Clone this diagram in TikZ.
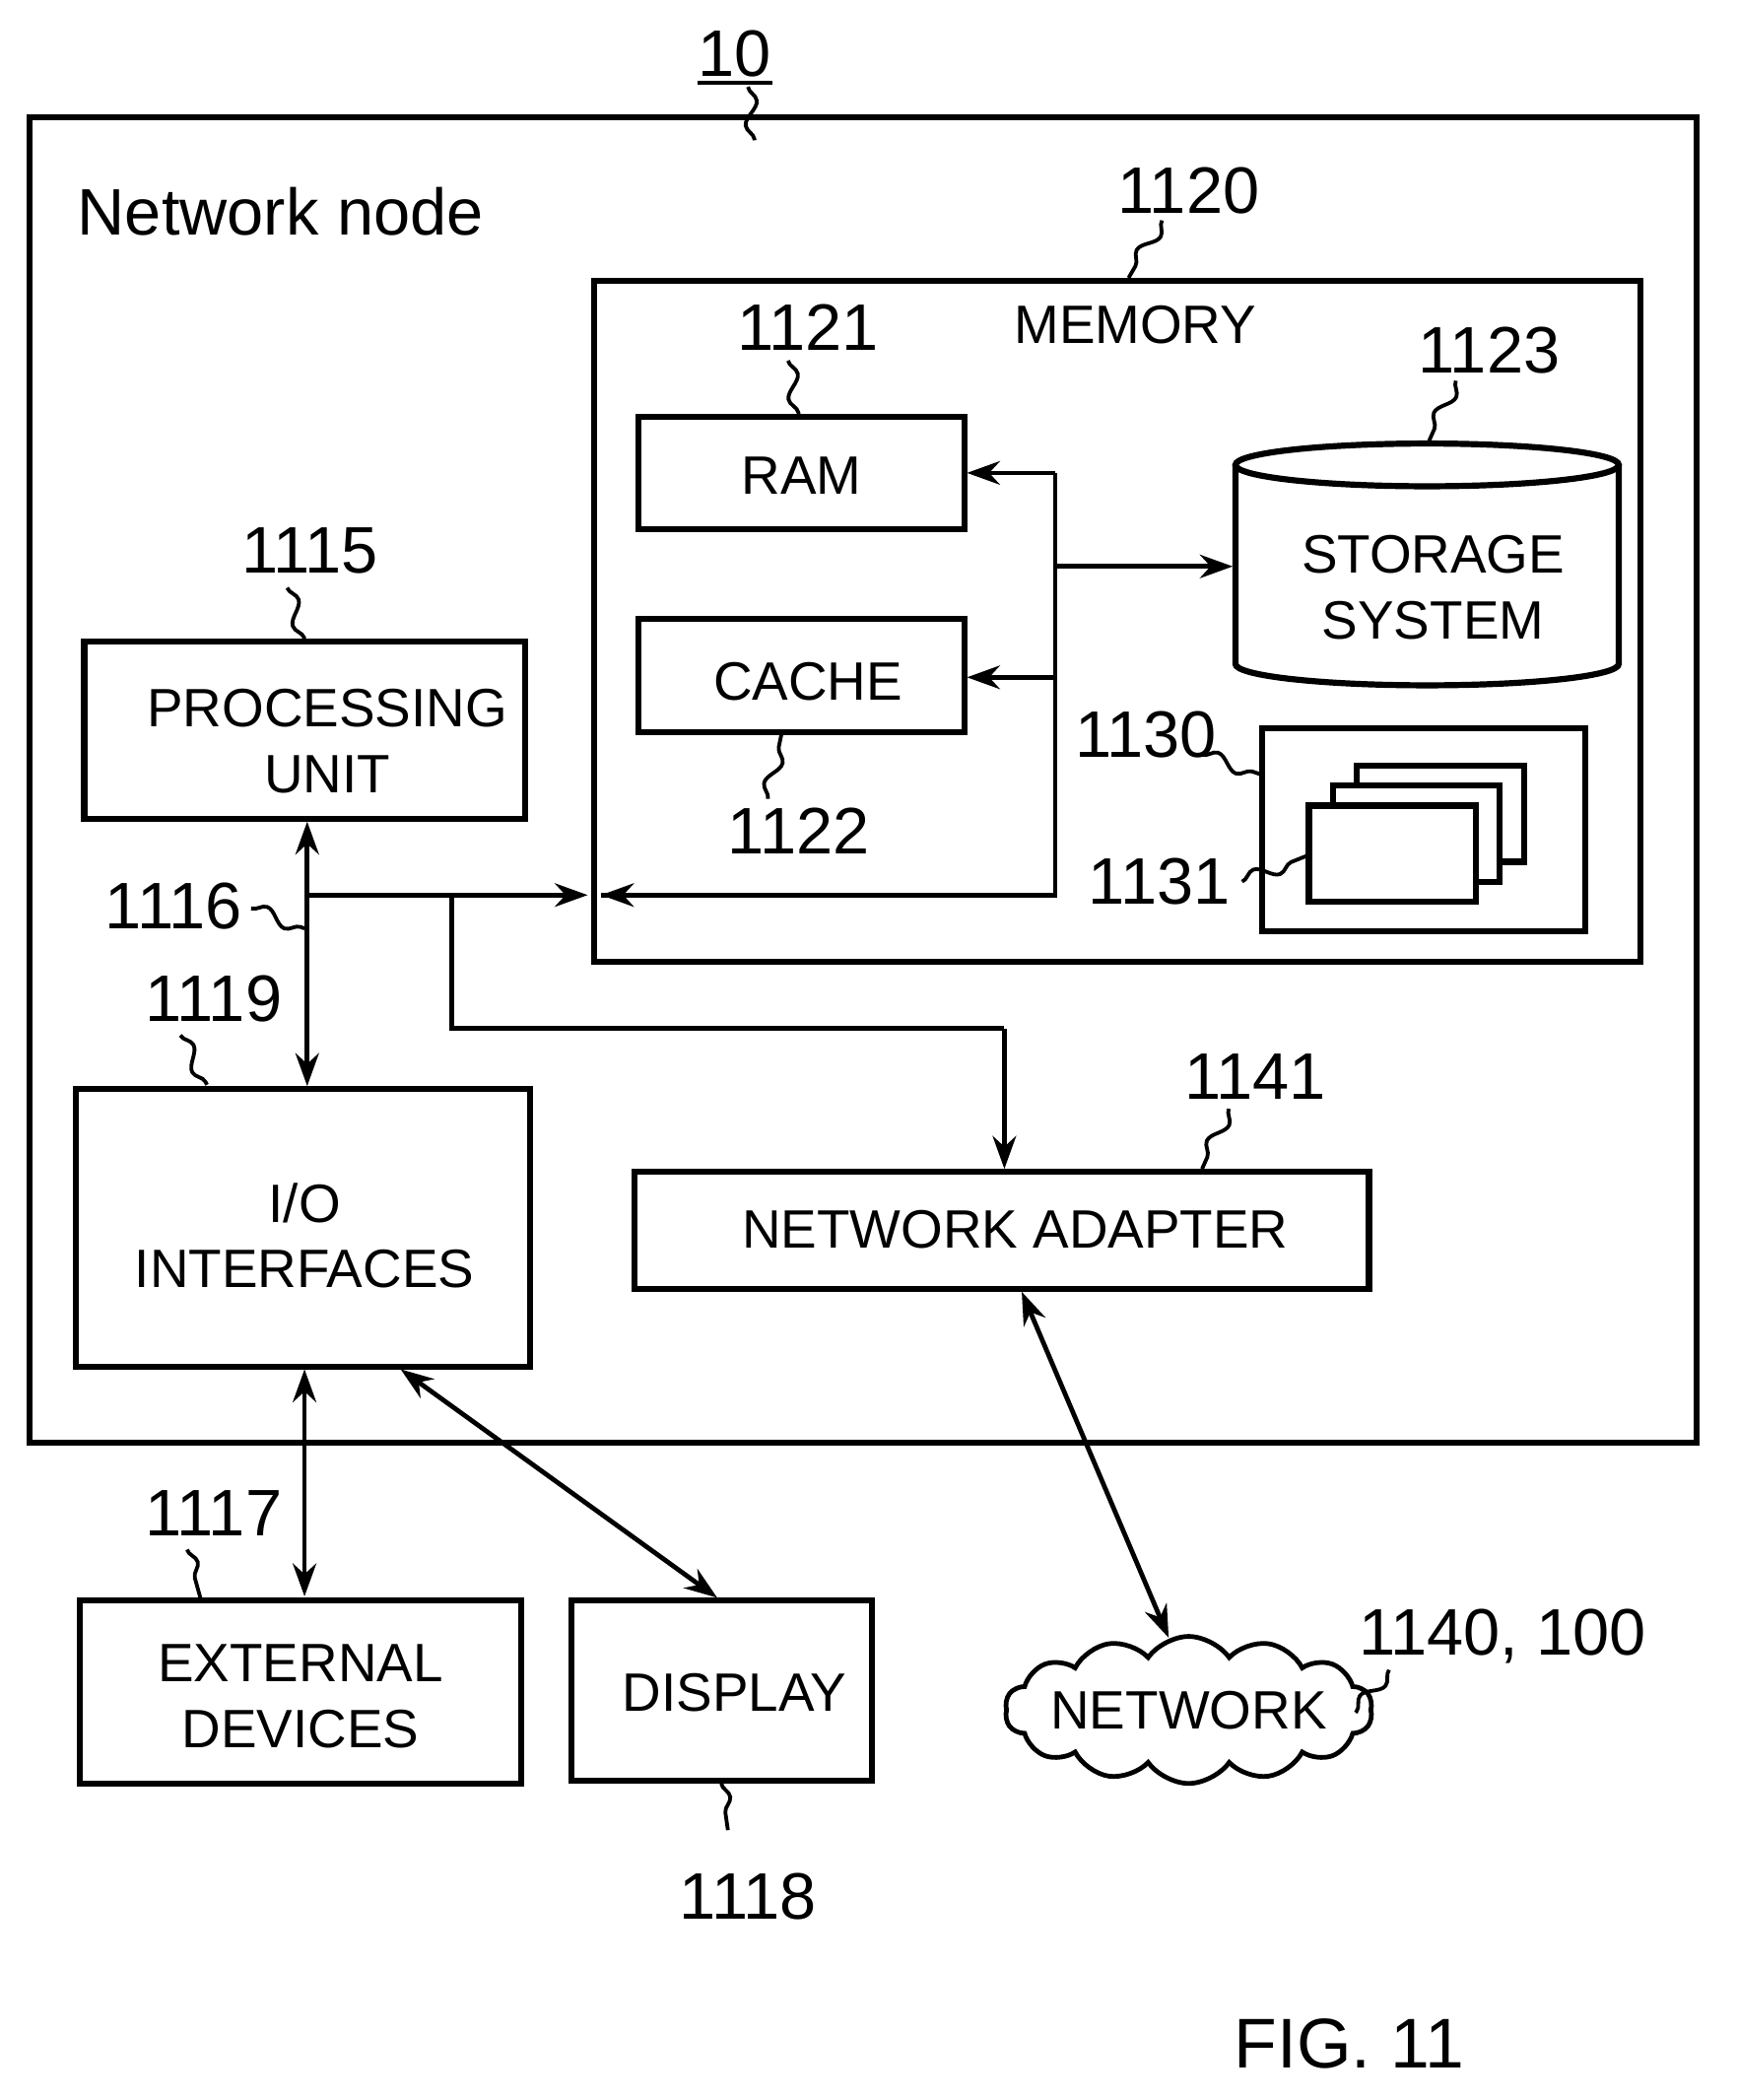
\documentclass[tikz,border=0pt]{standalone}
\usepackage{fontspec}
\setmainfont{Liberation Sans}
\usetikzlibrary{shapes.symbols,arrows.meta,decorations.pathmorphing}
\begin{document}
\begin{tikzpicture}[x=0.01cm,y=-0.01cm,
  bx/.style={draw,line width=1.3pt},
  lbl/.style={font=\fontsize{11.5}{14}\selectfont,align=center},
  num/.style={font=\fontsize{14}{16}\selectfont},
  ar/.style={line width=1pt,-{Stealth[length=7pt,width=5pt]}},
  dar/.style={line width=1pt,{Stealth[length=7pt,width=5pt]}-{Stealth[length=7pt,width=5pt]}},
  ln/.style={line width=1pt},
  lead/.style={line width=0.8pt,decorate,decoration={snake,amplitude=1.5pt,segment length=10pt}}]
\useasboundingbox (0,0) rectangle (1300,1572);
\draw[bx] (22,88) rectangle (1270,1080);
\node[num] (n10) at (550,40) {10};
\draw[line width=1pt] (522,62) -- (578,62);
\draw[lead] (560,65) -- (565,105);
\node[font=\fontsize{14}{16}\selectfont] (nn) at (210,158) {Network node};
% memory
\draw[bx] (445,210) rectangle (1228,720);
\node[lbl] (mem) at (850,243) {MEMORY};
\node[num] (n1120) at (890,143) {1120};
\draw[lead] (870,165) -- (845,208);
\draw[bx] (478,312) rectangle (722,396);
\node[lbl] (ram) at (600,356) {RAM};
\node[num] (n1121) at (605,245) {1121};
\draw[lead] (590,270) -- (598,310);
\draw[bx] (478,463) rectangle (722,548);
\node[lbl] (cache) at (605,510) {CACHE};
\node[num] (n1122) at (598,622) {1122};
\draw[lead] (575,598) -- (585,550);
% storage cylinder
\draw[bx] (925,348) -- (925,497) arc[start angle=180,end angle=0,x radius=143.5,y radius=16] -- (1212,348);
\draw[bx] (1068.5,348) ellipse[x radius=143.5,y radius=16];
\node[lbl] (stor) at (1073,440) {STORAGE\\SYSTEM};
\node[num] (n1123) at (1115,262) {1123};
\draw[lead] (1090,285) -- (1070,330);
% 1130
\draw[bx] (945,545) rectangle (1187,697);
\foreach \d in {36,18,0}{\draw[bx,fill=white] (980+\d,603-0.83*\d) rectangle (1105+\d,675-0.83*\d);}
\node[num] (n1130) at (858,550) {1130};
\draw[lead] (900,565) -- (945,580);
\node[num] (n1131) at (868,660) {1131};
\draw[lead] (930,660) -- (980,640);
% processing
\draw[bx] (63,480) rectangle (393,613);
\node[lbl] (pu) at (245,555) {PROCESSING\\UNIT};
\node[num] (n1115) at (232,412) {1115};
\draw[lead] (215,440) -- (228,478);
% IO
\draw[bx] (57,815) rectangle (397,1023);
\node[lbl] (io) at (228,925) {I/O\\INTERFACES};
\node[num] (n1119) at (160,748) {1119};
\draw[lead] (135,775) -- (155,812);
\node[num] (n1116) at (130,678) {1116};
\draw[lead] (188,680) -- (228,695);
% bus
\draw[dar] (230,615) -- (230,813);
\draw[ln] (230,670) -- (338,670);
\draw[ar] (338,670) -- (440,670);
\draw[ar] (500,670) -- (450,670);
\draw[ln] (450,670) -- (790,670) -- (790,354);
\draw[ar] (790,354) -- (724,354);
\draw[ar] (790,507) -- (724,507);
\draw[ar] (790,424) -- (923,424);
\draw[ln] (338,670) -- (338,770) -- (752,770);
\draw[ar] (752,770) -- (752,875);
% network adapter
\draw[bx] (475,877) rectangle (1025,965);
\node[lbl] (na) at (760,920) {NETWORK ADAPTER};
\node[num] (n1141) at (940,806) {1141};
\draw[lead] (920,830) -- (900,875);
% external / display
\draw[bx] (60,1198) rectangle (390,1335);
\node[lbl] (ext) at (225,1270) {EXTERNAL\\DEVICES};
\draw[bx] (428,1198) rectangle (653,1333);
\node[lbl] (disp) at (550,1267) {DISPLAY};
\draw[dar] (228,1025) -- (228,1195);
\draw[dar] (300,1025) -- (537,1196);
\node[num] (n1117) at (160,1133) {1117};
\draw[lead] (140,1160) -- (150,1196);
\node[num] (n1118) at (560,1420) {1118};
\draw[lead] (540,1335) -- (545,1370);
% network
\node[cloud,draw,line width=1pt,cloud puffs=14,cloud puff arc=110,inner sep=0pt,minimum width=2.75cm,minimum height=1.1cm,aspect=2.5] (net) at (890,1280) {};
\node[lbl] (nett) at (890,1280) {NETWORK};
\draw[dar] (765,967) -- (875,1226);
\node[num] (n1140) at (1125,1225) {1140, 100};
\draw[lead] (1040,1250) -- (1015,1282);
\node[font=\fontsize{15}{17}\selectfont] (fig) at (1010,1530) {FIG. 11};
\end{tikzpicture}
\end{document}
